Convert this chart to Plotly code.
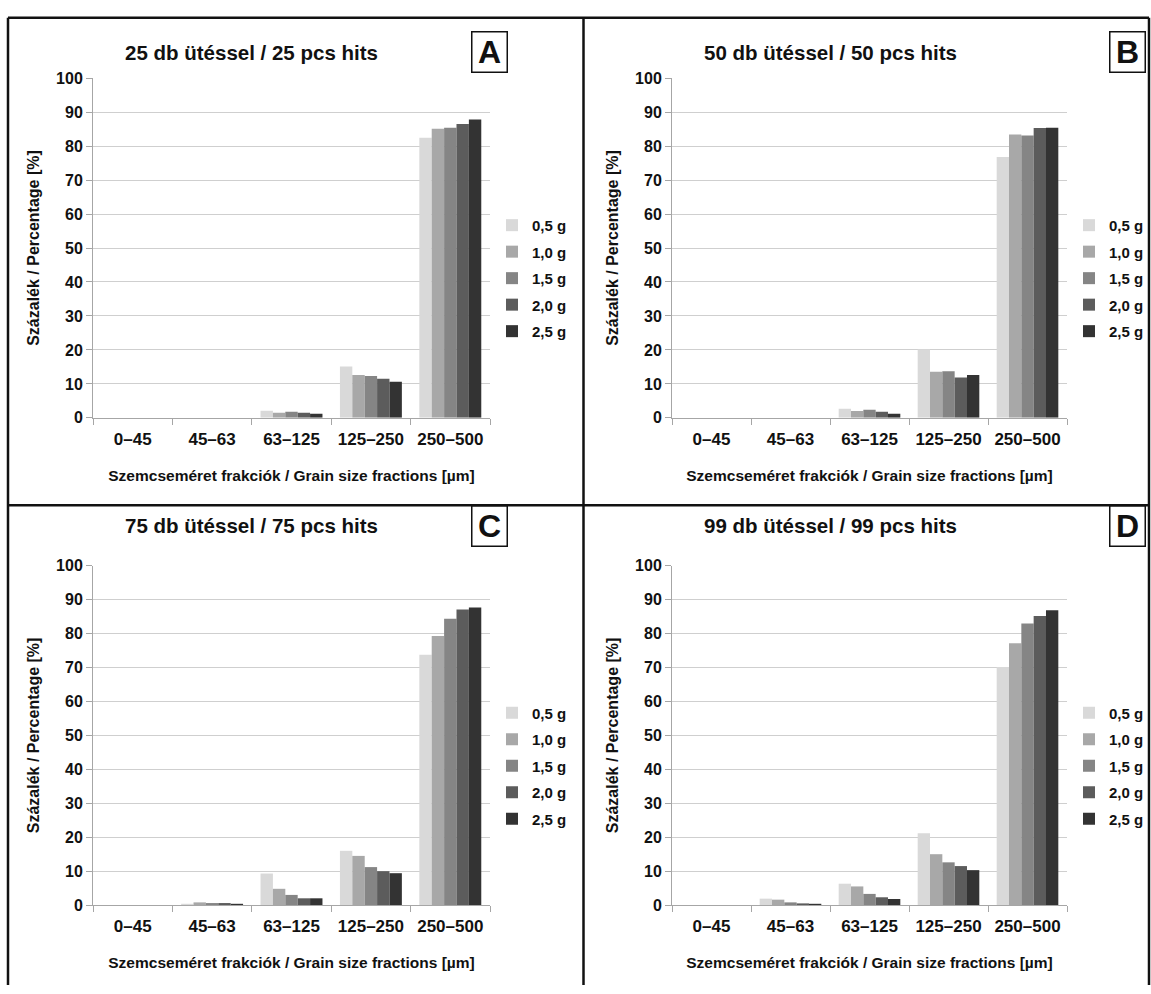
import plotly.graph_objects as go

W, H = 1151, 994

categories = ["0–45", "45–63", "63–125", "125–250", "250–500"]
masses = ["0,5 g", "1,0 g", "1,5 g", "2,0 g", "2,5 g"]
bar_colors = ["#d9d9d9", "#a8a8a8", "#858585", "#5c5c5c", "#333333"]
panel_titles = [
    "25 db ütéssel / 25 pcs hits",
    "50 db ütéssel / 50 pcs hits",
    "75 db ütéssel / 75 pcs hits",
    "99 db ütéssel / 99 pcs hits",
]
panel_letters = ["A", "B", "C", "D"]
y_tick_values = [0, 10, 20, 30, 40, 50, 60, 70, 80, 90, 100]

# rows: 0,5 g / 1,0 g / 1,5 g / 2,0 g / 2,5 g ; columns: categories
hits25 = [
    [0, 0, 2.1, 15.1, 82.5],
    [0, 0, 1.5, 12.6, 85.1],
    [0, 0, 1.8, 12.3, 85.4],
    [0, 0, 1.5, 11.5, 86.5],
    [0, 0, 1.2, 10.6, 87.8],
]
hits50 = [
    [0, 0, 2.7, 20.2, 76.8],
    [0, 0, 2.0, 13.6, 83.4],
    [0, 0, 2.4, 13.7, 83.1],
    [0, 0, 1.8, 11.9, 85.3],
    [0, 0, 1.2, 12.6, 85.4],
]
hits75 = [
    [0, 0.3, 9.3, 16.0, 73.8],
    [0, 0.8, 4.8, 14.5, 79.3],
    [0, 0.6, 3.0, 11.2, 84.4],
    [0, 0.6, 2.0, 10.0, 87.1],
    [0, 0.3, 2.0, 9.4, 87.7],
]
hits99 = [
    [0, 1.9, 6.3, 21.2, 70.2],
    [0, 1.6, 5.5, 15.0, 77.2],
    [0, 0.8, 3.3, 12.6, 83.0],
    [0, 0.5, 2.3, 11.5, 85.2],
    [0, 0.3, 1.8, 10.3, 86.9],
]
panels = [hits25, hits50, hits75, hits99]

SANS = "Liberation Sans, Arial, sans-serif"


def px(x):
    return x / W


def py(y):
    return 1 - y / H


# plot-area pixel boxes (left, right, top, bottom)
boxes = [
    (93, 490, 71.4, 417),
    (672, 1067, 71.4, 417),
    (93, 490, 567.5, 912.7),
    (672, 1067, 567.5, 912.7),
]

fig = go.Figure()
layout = dict(
    width=W, height=H, autosize=False,
    margin=dict(l=0, r=0, t=0, b=0),
    paper_bgcolor="white", plot_bgcolor="white",
    barmode="group", bargap=0.22, bargroupgap=0,
    font=dict(family=SANS, color="#111111"),
)

legend_names = ["legend", "legend2", "legend3", "legend4"]

for p, data in enumerate(panels):
    sfx = "" if p == 0 else str(p + 1)
    for i, m in enumerate(masses):
        fig.add_trace(go.Bar(
            x=categories, y=data[i], name=m,
            marker=dict(color=bar_colors[i], line=dict(width=0)),
            xaxis="x" + sfx, yaxis="y" + sfx,
            legend=legend_names[p], legendgroup=f"p{p}m{i}",
            showlegend=True,
        ))
    l, r, t, b = boxes[p]
    layout["xaxis" + sfx] = dict(
        domain=[px(l), px(r)], anchor="y" + sfx, type="category",
        showline=True, linecolor="#a6a6a6", linewidth=1,
        ticks="outside", tickson="boundaries", ticklen=6, tickcolor="#a6a6a6",
        showgrid=False, ticklabelstandoff=6,
        tickfont=dict(family=SANS, size=17, weight="bold", color="#111111"),
        title=dict(text="Szemcseméret frakciók / Grain size fractions [µm]",
                   font=dict(family=SANS, size=15.5, weight="bold", color="#111111"),
                   standoff=21),
    )
    layout["yaxis" + sfx] = dict(
        domain=[py(b), py(t)], anchor="x" + sfx, range=[0, 100],
        tickvals=y_tick_values,
        showgrid=True, gridcolor="#cfcfcf", gridwidth=1,
        showline=True, linecolor="#a6a6a6", linewidth=1,
        ticks="outside", ticklen=6, tickcolor="#a6a6a6", zeroline=False,
        tickfont=dict(family=SANS, size=16, weight="bold", color="#111111"),
        title=dict(text="Százalék / Percentage [%]",
                   font=dict(family=SANS, size=16, weight="bold", color="#111111"),
                   standoff=12),
    )
    layout[legend_names[p]] = dict(
        x=px(r + 2), y=py(t + 133), xanchor="left", yanchor="top",
        font=dict(family=SANS, size=15, weight="bold", color="#111111"),
        tracegroupgap=4, itemwidth=30, bgcolor="rgba(0,0,0,0)",
    )

annotations = []
title_centers = [(251, 45), (830, 45), (251, 527), (830, 527)]
letter_centers = [(489, 45), (1127, 45), (489, 527), (1127, 527)]
for p in range(4):
    tx, ty = title_centers[p]
    annotations.append(dict(
        x=px(tx), y=py(ty), xref="paper", yref="paper", showarrow=False,
        text=panel_titles[p], xanchor="center", yanchor="middle",
        font=dict(family=SANS, size=20.5, weight="bold", color="#111111"),
    ))
    lx, ly = letter_centers[p]
    annotations.append(dict(
        x=px(lx), y=py(ly), xref="paper", yref="paper", showarrow=False,
        text=panel_letters[p], xanchor="center", yanchor="middle",
        width=32, height=37, borderpad=1, borderwidth=1.5, bordercolor="#111111",
        font=dict(family=SANS, size=32, weight="bold", color="#111111"),
    ))
layout["annotations"] = annotations

frame = dict(type="line", xref="paper", yref="paper",
             line=dict(color="#111111", width=2.5))
layout["shapes"] = [
    dict(frame, x0=px(8), x1=px(8), y0=py(10), y1=py(994)),
    dict(frame, x0=px(8), x1=px(1149), y0=py(10), y1=py(10)),
    dict(frame, x0=px(1149), x1=px(1149), y0=py(10), y1=py(994)),
    dict(frame, x0=px(583.5), x1=px(583.5), y0=py(10), y1=py(994)),
    dict(frame, x0=px(8), x1=px(1149), y0=py(506), y1=py(506)),
]

fig.update_layout(**layout)
fig.write_html(
    "out.html",
    config={"displayModeBar": False},
    post_script="document.body.style.margin='0px';document.body.style.padding='0px';"
                "document.body.style.overflow='hidden';",
)
